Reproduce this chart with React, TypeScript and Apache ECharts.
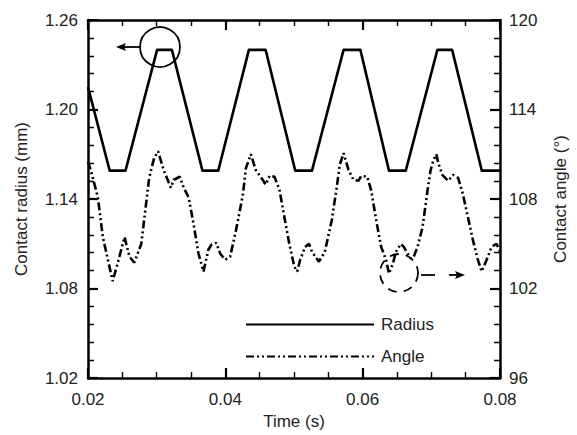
import React, { useEffect, useRef } from "react";
import * as echarts from "echarts";

const xTicks = [0.02, 0.04, 0.06, 0.08];
const radiusTicks = [1.02, 1.08, 1.14, 1.2, 1.26];
const angleTicks = [96, 102, 108, 114, 120];
const xMinorPerMajor = 4;
const yMinorPerMajor = 5;

const radiusTime = [0.02, 0.02316, 0.02546, 0.03006, 0.03222, 0.03667, 0.03897, 0.04343, 0.04587, 0.05018, 0.05262, 0.05722, 0.05967, 0.06383, 0.06628, 0.07088, 0.07303, 0.07735, 0.08];
const radiusValue = [1.215, 1.159, 1.159, 1.24, 1.24, 1.159, 1.159, 1.24, 1.24, 1.159, 1.159, 1.24, 1.24, 1.159, 1.159, 1.24, 1.24, 1.159, 1.159];

const angleTime = [0.02, 0.02043, 0.02144, 0.02216, 0.02359, 0.02431, 0.02532, 0.02604, 0.02675, 0.02776, 0.02891, 0.02963, 0.0302, 0.03107, 0.03207, 0.0325, 0.03337, 0.03394, 0.03466, 0.03538, 0.0361, 0.03682, 0.03753, 0.03797, 0.03868, 0.03926, 0.03998, 0.0407, 0.04156, 0.04256, 0.043, 0.04371, 0.04443, 0.04544, 0.04587, 0.04644, 0.04716, 0.04788, 0.0486, 0.04932, 0.05004, 0.05047, 0.0509, 0.05162, 0.05219, 0.05262, 0.05363, 0.05449, 0.0555, 0.05622, 0.05665, 0.05722, 0.05794, 0.05866, 0.05938, 0.05981, 0.06067, 0.06125, 0.06197, 0.06269, 0.0634, 0.06383, 0.06441, 0.06484, 0.06556, 0.06599, 0.06657, 0.067, 0.06743, 0.068, 0.06872, 0.06944, 0.06987, 0.0703, 0.07073, 0.07102, 0.0716, 0.07246, 0.07318, 0.0739, 0.07461, 0.07533, 0.07605, 0.07677, 0.07734, 0.07806, 0.07878, 0.0795, 0.08];
const angleValue = [110.5, 109.9, 108.1, 105.45, 102.5, 103.67, 105.45, 104.13, 103.74, 104.99, 109.42, 110.74, 111.2, 109.88, 108.76, 109.29, 109.49, 108.76, 108.1, 106.3, 104.33, 103.14, 104.6, 104.93, 105.06, 104.33, 103.93, 104.13, 105.92, 108.3, 110.08, 111.0, 109.95, 109.29, 108.96, 109.55, 109.49, 108.63, 106.78, 104.99, 103.47, 103.14, 103.93, 104.79, 104.99, 104.46, 103.8, 104.46, 106.58, 108.76, 110.28, 111.07, 109.95, 109.29, 109.22, 109.55, 109.49, 108.56, 106.58, 104.79, 103.93, 103.0, 103.67, 104.46, 104.99, 104.79, 104.33, 104.0, 104.13, 104.79, 106.12, 108.56, 109.88, 110.6, 111.0, 110.4, 109.62, 109.22, 109.62, 109.42, 108.3, 106.78, 105.26, 103.93, 103.14, 103.93, 104.79, 104.99, 104.5];

const FONT = "'Liberation Sans', Arial, Helvetica, sans-serif";
const TEXT = "#222";
const W_PAGE = 577;
const H_PAGE = 435;
const GRID = { left: 88, right: 72, top: 20, bottom: 52 };

// tick values (major + minor) derived from the major tick labels
function tickList(major: number[], perMajor: number): [number, number][] {
  const out: [number, number][] = [];
  for (let i = 0; i < major.length; i++) {
    out.push([major[i], 1]);
    if (i < major.length - 1) {
      const step = (major[i + 1] - major[i]) / perMajor;
      for (let k = 1; k < perMajor; k++) out.push([major[i] + step * k, 0]);
    }
  }
  return out;
}

export default function App() {
  const ref = useRef<HTMLDivElement>(null);
  useEffect(() => {
    if (!ref.current) return;
    const chart = echarts.init(ref.current, undefined, { renderer: "svg" });
    const xMin = xTicks[0];
    const xMax = xTicks[xTicks.length - 1];
    const rMin = radiusTicks[0];
    const rMax = radiusTicks[radiusTicks.length - 1];
    const aMin = angleTicks[0];
    const aMax = angleTicks[angleTicks.length - 1];

    const gw = W_PAGE - GRID.left - GRID.right;
    const gh = H_PAGE - GRID.top - GRID.bottom;
    // tick lengths (px) expressed in each axis' data units
    const dx = (p: number) => (p / gw) * (xMax - xMin);
    const dr = (p: number) => (p / gh) * (rMax - rMin);
    const da = (p: number) => (p / gh) * (aMax - aMin);
    const len = (m: number) => (m ? 10 : 6);

    const xT = tickList(xTicks, xMinorPerMajor);
    const rT = tickList(radiusTicks, yMinorPerMajor);
    const aT = tickList(angleTicks, yMinorPerMajor);

    const radiusFrameTicks = (major: number) => {
      const out: any[] = [];
      xT.filter(([, m]) => m === major).forEach(([v, m]) => {
        out.push({ coords: [[v, rMin], [v, rMin + dr(len(m))]] });
        out.push({ coords: [[v, rMax], [v, rMax - dr(len(m))]] });
      });
      rT.filter(([, m]) => m === major).forEach(([v, m]) => {
        out.push({ coords: [[xMin, v], [xMin + dx(len(m)), v]] });
      });
      return out;
    };
    const angleFrameTicks = (major: number) =>
      aT.filter(([, m]) => m === major).map(([v, m]) => ({ coords: [[xMax, v], [xMax - dx(len(m)), v]] }));

    const tickSeries = (yIdx: number, data: any[], width: number) => ({
      type: "lines",
      coordinateSystem: "cartesian2d",
      xAxisIndex: 0,
      yAxisIndex: yIdx,
      polyline: false,
      silent: true,
      z: 5,
      data,
      lineStyle: { color: "#000", width, opacity: 1, curveness: 0 },
    });

    const label = () => ({ color: TEXT, fontSize: 17, fontFamily: FONT });
    const axisLine = () => ({ show: true, lineStyle: { color: "#000", width: 2.5 } });
    const nativeTick = () => ({ show: true, inside: true, length: 10, lineStyle: { color: "#000", width: 2 } });

    const annotations: any[] = [
      { type: "circle", shape: { cx: 160, cy: 47, r: 20 }, style: { fill: "none", stroke: "#000", lineWidth: 1.8 } },
      { type: "line", shape: { x1: 140, y1: 47, x2: 121, y2: 47 }, style: { stroke: "#000", lineWidth: 1.8 } },
      { type: "polygon", shape: { points: [[116, 47], [126, 43], [124, 47], [126, 51]] }, style: { fill: "#000" } },
      { type: "circle", shape: { cx: 399, cy: 273, r: 19 }, style: { fill: "none", stroke: "#000", lineWidth: 1.8, lineDash: [9, 7] } },
      { type: "line", shape: { x1: 421, y1: 275, x2: 435, y2: 275 }, style: { stroke: "#000", lineWidth: 1.8 } },
      { type: "line", shape: { x1: 449, y1: 275, x2: 460, y2: 275 }, style: { stroke: "#000", lineWidth: 1.8 } },
      { type: "polygon", shape: { points: [[465, 275], [455, 271], [457, 275], [455, 279]] }, style: { fill: "#000" } },
    ];

    const option: any = {
      animation: false,
      grid: { ...GRID },
      xAxis: [
        {
          type: "value",
          min: xMin,
          max: xMax,
          interval: 0.02,
          splitLine: { show: false },
          axisLine: axisLine(),
          axisTick: nativeTick(),
          name: "Time (s)",
          nameLocation: "middle",
          nameGap: 35,
          nameTextStyle: label(),
          axisLabel: { ...label(), margin: 13, formatter: (v: number) => v.toFixed(2) },
        },
        {
          type: "value",
          position: "top",
          min: xMin,
          max: xMax,
          interval: 0.02,
          splitLine: { show: false },
          axisLine: axisLine(),
          axisTick: nativeTick(),
          axisLabel: { show: false },
        },
      ],
      yAxis: [
        {
          type: "value",
          min: rMin,
          max: rMax,
          interval: 0.06,
          splitLine: { show: false },
          axisLine: axisLine(),
          axisTick: nativeTick(),
          axisLabel: { ...label(), margin: 10, formatter: (v: number) => v.toFixed(2) },
          name: "Contact radius (mm)",
          nameLocation: "middle",
          nameRotate: 90,
          nameGap: 58,
          nameTextStyle: label(),
        },
        {
          type: "value",
          min: aMin,
          max: aMax,
          interval: 6,
          splitLine: { show: false },
          axisLine: axisLine(),
          axisTick: nativeTick(),
          axisLabel: { ...label(), margin: 9 },
          name: "Contact angle (°)",
          nameLocation: "middle",
          nameRotate: 90,
          nameGap: 52,
          nameTextStyle: label(),
        },
      ],
      legend: {
        orient: "vertical",
        left: 240,
        top: 311,
        itemWidth: 128,
        itemHeight: 20,
        itemGap: 15,
        itemStyle: { color: "rgba(0,0,0,0)", borderColor: "rgba(0,0,0,0)", borderWidth: 0, opacity: 0 },
        textStyle: { ...label(), padding: [0, 0, 0, 2] },
        data: ["Radius", "Angle"],
      },
      series: [
        {
          name: "Radius",
          type: "line",
          xAxisIndex: 0,
          yAxisIndex: 0,
          symbol: "none",
          data: radiusTime.map((t, i) => [t, radiusValue[i]]),
          lineStyle: { color: "#000", width: 2.6, join: "round" },
          itemStyle: { color: "#000" },
        },
        {
          name: "Angle",
          type: "line",
          xAxisIndex: 0,
          yAxisIndex: 1,
          symbol: "none",
          data: angleTime.map((t, i) => [t, angleValue[i]]),
          lineStyle: { color: "#000", width: 2.6, type: [8, 3, 2, 3, 2, 3] },
          itemStyle: { color: "#000" },
        },
        tickSeries(0, radiusFrameTicks(1), 2.2),
        tickSeries(0, radiusFrameTicks(0), 1.4),
        tickSeries(1, angleFrameTicks(1), 2.2),
        tickSeries(1, angleFrameTicks(0), 1.4),
      ],
      graphic: annotations,
    };
    chart.setOption(option);
    return () => chart.dispose();
  }, []);
  return <div ref={ref} style={{ position: "fixed", left: 0, top: 0, width: W_PAGE, height: H_PAGE, background: "#fff" }} />;
}
